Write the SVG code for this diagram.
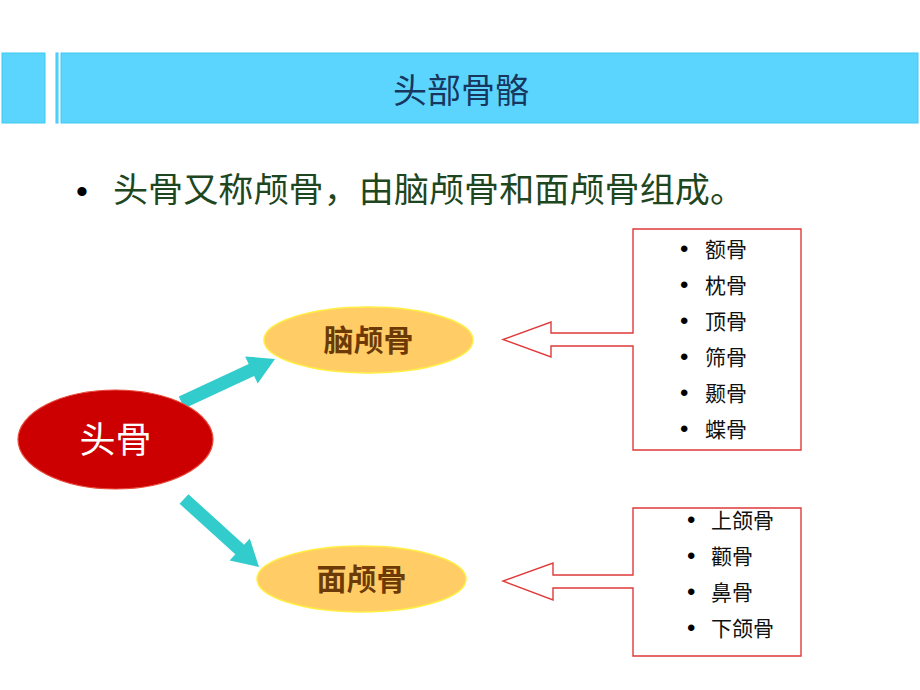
<svg xmlns="http://www.w3.org/2000/svg" width="920" height="690" viewBox="0 0 920 690">
<defs>
<style>
.band{fill:#5BD5FE;stroke:#3FC8F5;stroke-width:1}
.title{font-family:"Noto Sans CJK SC",sans-serif;font-size:34px;fill:#17375E;text-anchor:middle}
.lead{font-family:"Noto Sans CJK SC",sans-serif;font-size:34px;fill:#1E4620}
.bul{font-family:"Liberation Sans",sans-serif;fill:#000}
.item{font-family:"Noto Sans CJK SC",sans-serif;font-size:21px;fill:#111}
.sub{fill:#FFCC66;stroke:#FFEE44;stroke-width:1.5}
.subtxt{font-family:"Noto Sans CJK SC",sans-serif;font-size:30px;font-weight:bold;fill:#6B3A06;text-anchor:middle}
.arrow{fill:#33CCCC}
.callout{fill:#FFFFFF;stroke:#E03A3A;stroke-width:1.4}
</style>
</defs>
<rect width="920" height="690" fill="#FFFFFF"/>
<g id="header">
<rect class="band" x="2" y="53" width="43" height="70"/>
<rect class="band" x="56" y="53" width="2" height="70" stroke="none"/>
<rect class="band" x="61" y="53" width="857" height="70"/>
<text class="title" x="461" y="103">头部骨骼</text>
</g>
<g id="lead">
<text class="bul" x="76" y="203" font-size="34" fill="#1E4620">•</text>
<text class="lead" x="113" y="202" textLength="632" lengthAdjust="spacingAndGlyphs">头骨又称颅骨，由脑颅骨和面颅骨组成。</text>
</g>
<g id="connectors">
<polygon class="arrow" points="178.8,396.6 248.7,364.1 245.1,356.4 275,359 257.7,383.6 254.1,375.9 184.2,408.4"/>
<polygon class="arrow" points="188.4,494.2 244.1,544.7 249.8,538.4 259,567 229.6,560.6 235.3,554.3 179.6,503.8"/>
</g>
<g id="node-head">
<ellipse cx="115.5" cy="439.5" rx="97.5" ry="49.5" fill="#CC0000" stroke="#E84A3A" stroke-width="1.2"/>
<text x="115.5" y="453" font-family="Noto Sans CJK SC,sans-serif" font-size="36" fill="#FFFFFF" text-anchor="middle">头骨</text>
</g>
<g id="node-brain">
<ellipse class="sub" cx="368.5" cy="340" rx="104.5" ry="33"/>
<text class="subtxt" x="368.5" y="351">脑颅骨</text>
</g>
<g id="node-face">
<ellipse class="sub" cx="361.5" cy="579" rx="104.5" ry="33"/>
<text class="subtxt" x="361.5" y="590">面颅骨</text>
</g>
<g id="list-brain">
<path class="callout" d="M633,229 H801 V450 H633 V346 H551 V357 L503,339.5 L551,322 V333 H633 Z"/>
<g class="item">
<text x="705" y="257">额骨</text>
<text x="705" y="293">枕骨</text>
<text x="705" y="329">顶骨</text>
<text x="705" y="365">筛骨</text>
<text x="705" y="401">颞骨</text>
<text x="705" y="437">蝶骨</text>
</g>
<g class="bul" font-size="24">
<text x="680" y="257">•</text>
<text x="680" y="293">•</text>
<text x="680" y="329">•</text>
<text x="680" y="365">•</text>
<text x="680" y="401">•</text>
<text x="680" y="437">•</text>
</g>
</g>
<g id="list-face">
<path class="callout" d="M633,508 H801 V656 H633 V588 H553 V600 L503,581 L553,563 V575 H633 Z"/>
<g class="item">
<text x="711" y="528">上颌骨</text>
<text x="711" y="564">颧骨</text>
<text x="711" y="600">鼻骨</text>
<text x="711" y="636">下颌骨</text>
</g>
<g class="bul" font-size="24">
<text x="687" y="528">•</text>
<text x="687" y="564">•</text>
<text x="687" y="600">•</text>
<text x="687" y="636">•</text>
</g>
</g>
</svg>
